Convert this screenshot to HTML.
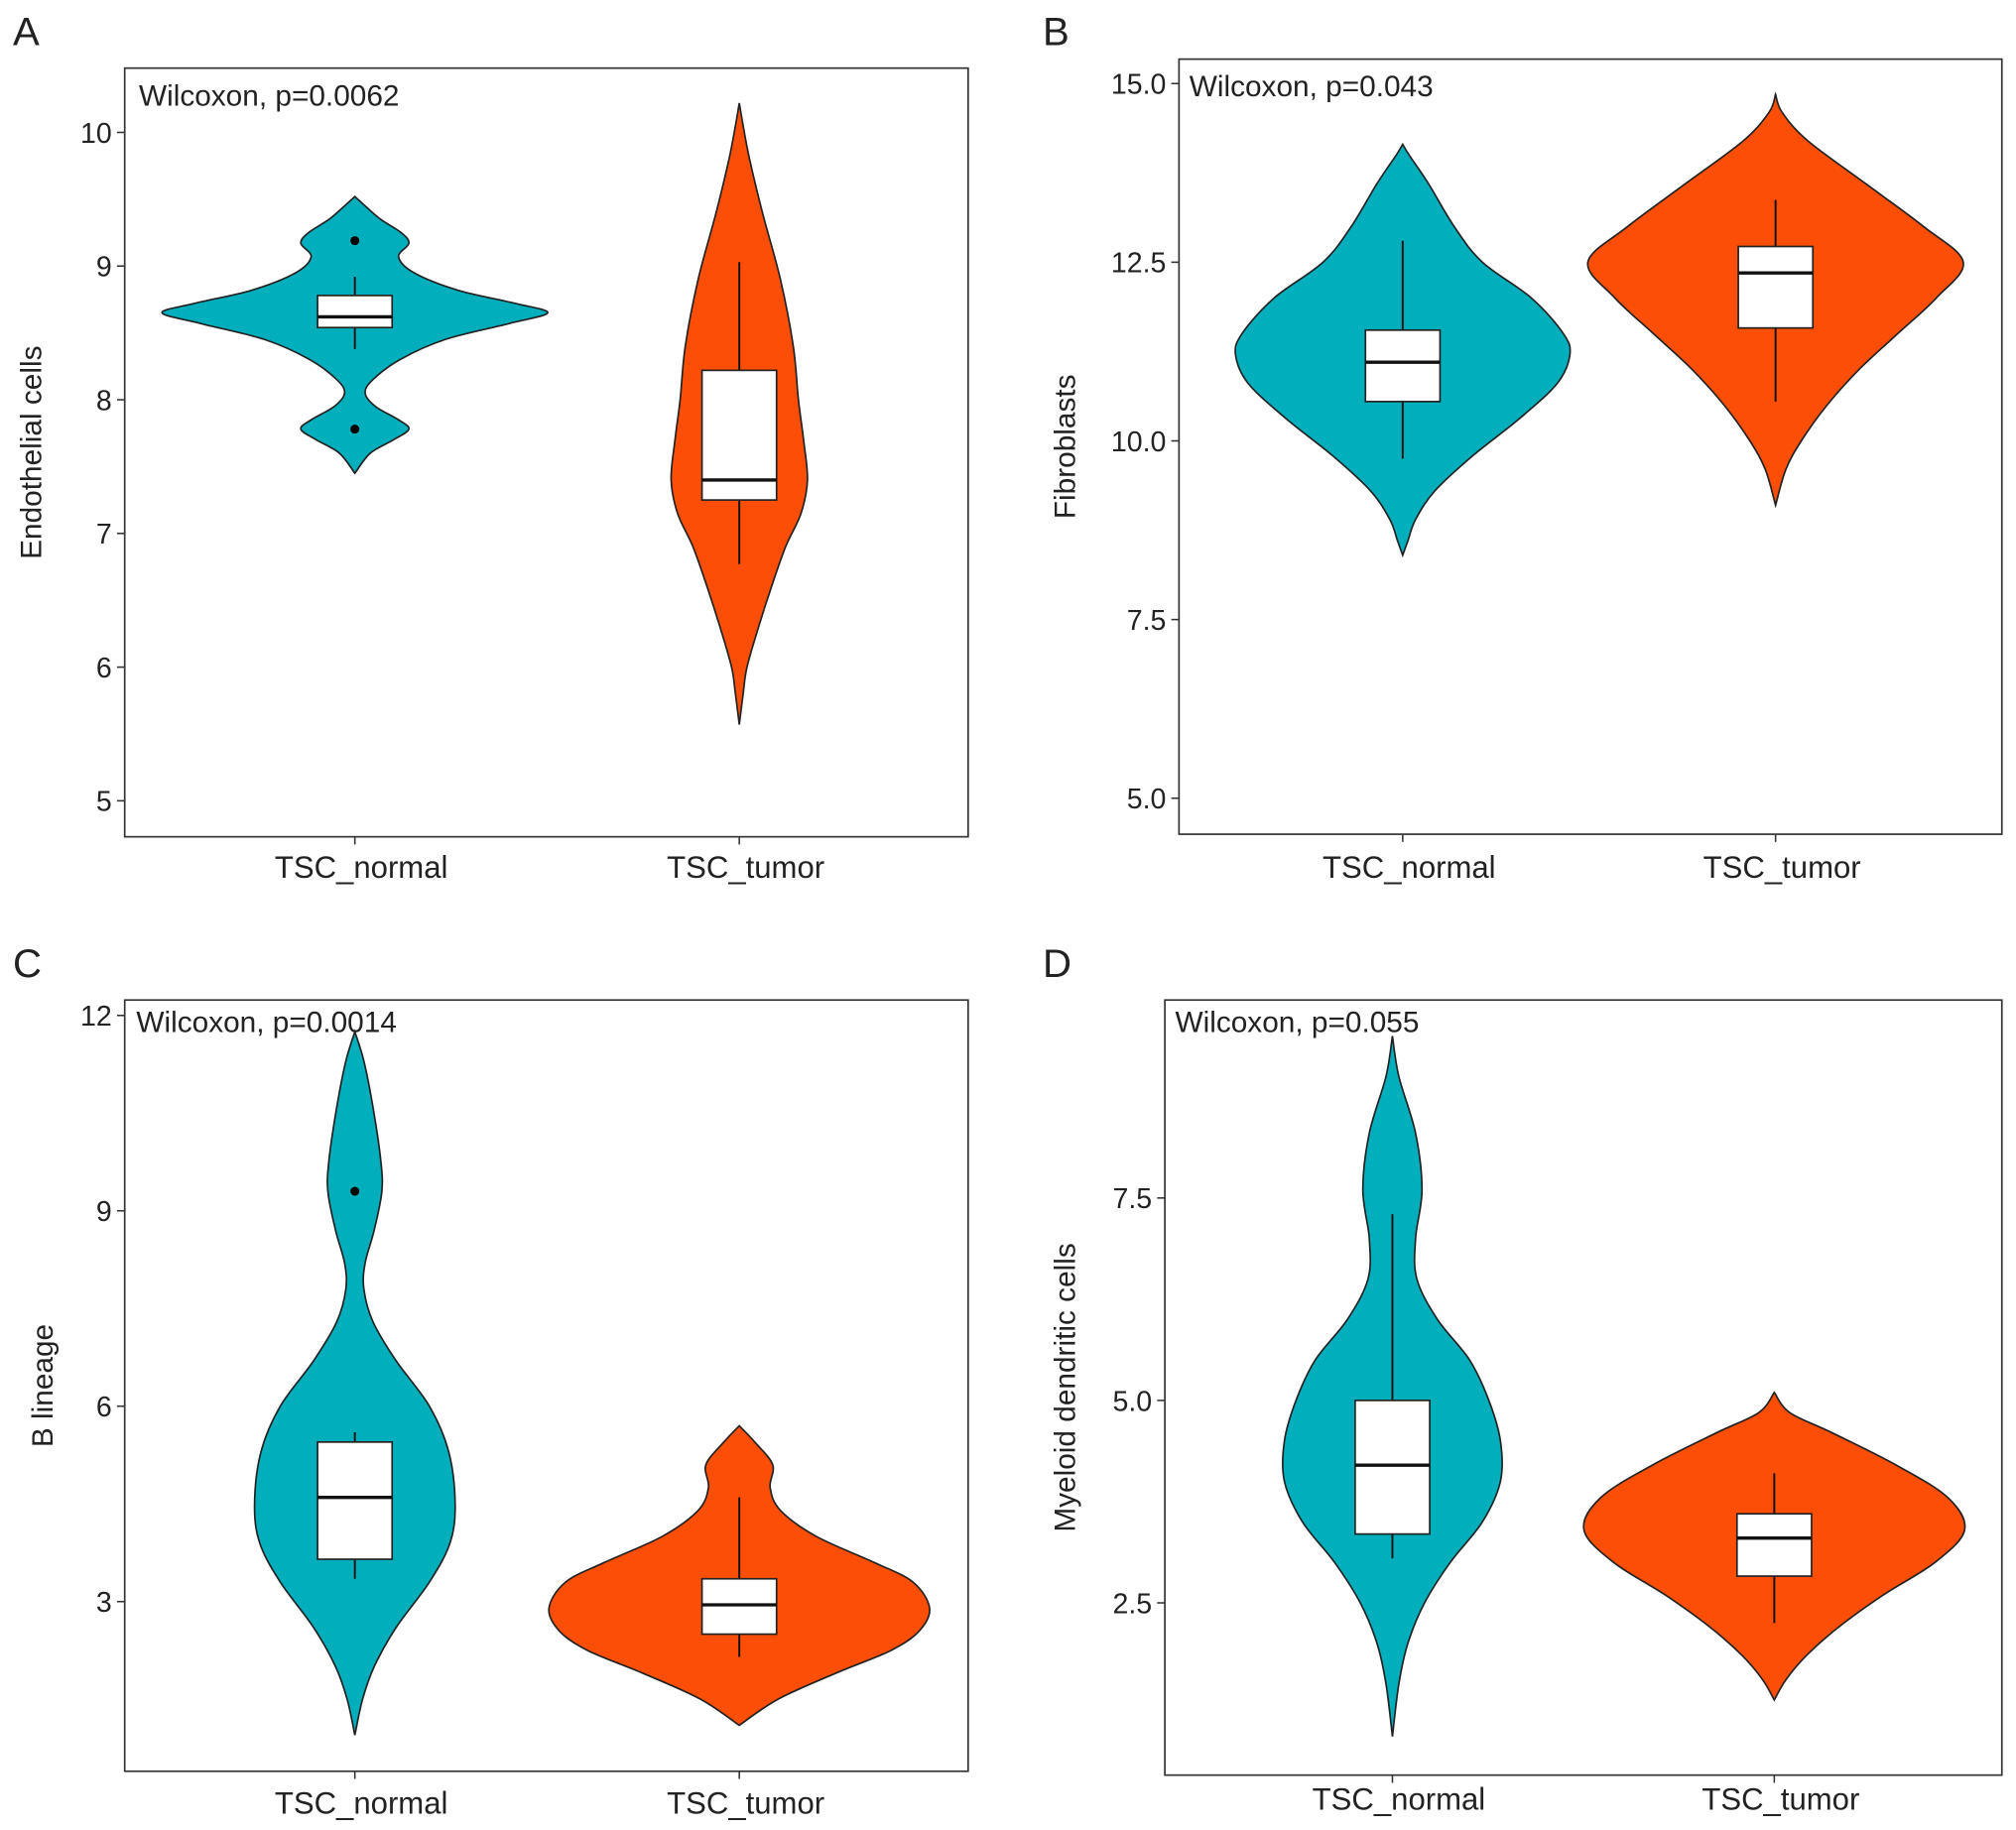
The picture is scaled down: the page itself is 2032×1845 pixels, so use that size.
<!DOCTYPE html>
<html><head><meta charset="utf-8"><style>
html,body{margin:0;padding:0;background:#fff}
svg{display:block}
text{font-family:"Liberation Sans",Arial,sans-serif;fill:#222}
</style></head><body>
<svg id="fig" xmlns="http://www.w3.org/2000/svg" width="2032" height="1845" viewBox="0 0 1568 1423.7" preserveAspectRatio="none"></svg>
<script>
// ---- data ----
const categories = ["TSC_normal","TSC_tumor"];
const panelLetters = ["A","B","C","D"];
const yTitles = ["Endothelial cells","Fibroblasts","B lineage","Myeloid dendritic cells"];
const pLabels = ["Wilcoxon, p=0.0062","Wilcoxon, p=0.043","Wilcoxon, p=0.0014","Wilcoxon, p=0.055"];
const tickValuesA = [5,6,7,8,9,10];
const tickLabelsA = ["5","6","7","8","9","10"];
const tickValuesB = [5,7.5,10,12.5,15];
const tickLabelsB = ["5.0","7.5","10.0","12.5","15.0"];
const tickValuesC = [3,6,9,12];
const tickLabelsC = ["3","6","9","12"];
const tickValuesD = [2.5,5,7.5];
const tickLabelsD = ["2.5","5.0","7.5"];
// violin profiles: [value, relative half-width]
const violinA_normal = [[9.52,0],[9.45,8],[9.35,20],[9.25,36],[9.17,42],[9.07,34],[8.95,46],[8.82,80],[8.72,125],[8.65,150],[8.57,120],[8.45,70],[8.3,35],[8.15,14],[8.05,8],[7.95,16],[7.85,34],[7.78,42],[7.7,30],[7.6,12],[7.45,0]];
const violinA_tumor = [[10.22,0],[10.05,3],[9.8,8],[9.4,18],[8.9,32],[8.4,42],[8.0,46],[7.7,50],[7.4,53],[7.15,48],[6.9,36],[6.6,25],[6.3,15],[6.0,6],[5.8,3],[5.57,0]];
const boxA_normal = [8.38,8.54,8.62,8.78,8.92];
const boxA_tumor = [6.77,7.25,7.4,8.22,9.03];
const outliersA_normal = [9.19,7.78];
const violinB_normal = [[14.15,0],[14.0,5],[13.6,20],[13.0,40],[12.5,62],[12.0,100],[11.5,125],[11.2,130],[10.8,120],[10.3,90],[9.8,55],[9.3,25],[8.9,10],[8.6,4],[8.4,0]];
const violinB_tumor = [[14.85,0],[14.6,5],[14.2,25],[13.6,70],[13.0,115],[12.5,146],[12.0,125],[11.5,95],[11.0,65],[10.5,40],[10.0,20],[9.6,8],[9.1,0]];
const boxB_normal = [9.75,10.55,11.1,11.55,12.8];
const boxB_tumor = [10.55,11.58,12.35,12.72,13.37];
const violinC_normal = [[11.75,0],[11.3,7],[10.6,14],[9.8,20],[9.3,21],[8.7,15],[8.2,8],[7.8,7],[7.3,14],[6.7,32],[6.0,58],[5.3,73],[4.5,78],[3.9,74],[3.3,58],[2.6,32],[2.0,15],[1.5,6],[0.95,0]];
const violinC_tumor = [[5.7,0],[5.45,12],[5.1,26],[4.75,24],[4.4,32],[4.0,60],[3.6,105],[3.3,135],[2.9,148],[2.55,140],[2.25,118],[1.9,75],[1.5,30],[1.1,0]];
const boxC_normal = [3.35,3.65,4.6,5.45,5.6];
const boxC_tumor = [2.15,2.5,2.95,3.35,4.6];
const outliersC_normal = [9.3];
const violinD_normal = [[9.5,0],[9.0,5],[8.3,18],[7.6,23],[7.0,18],[6.5,19],[6.0,35],[5.5,60],[5.0,75],[4.5,84],[4.0,84],[3.5,70],[3.0,45],[2.5,25],[2.0,12],[1.5,5],[0.85,0]];
const violinD_tumor = [[5.1,0],[4.85,12],[4.6,45],[4.2,95],[3.8,135],[3.4,148],[3.0,125],[2.6,85],[2.2,50],[1.85,25],[1.55,9],[1.3,0]];
const boxD_normal = [3.05,3.35,4.2,5.0,7.3];
const boxD_tumor = [2.25,2.83,3.3,3.6,4.1];

const colors = ["#00AFBB","#FC4E07"];
const NS = "http://www.w3.org/2000/svg";
const svg = document.getElementById("fig");
function el(tag, attrs, parent){const e=document.createElementNS(NS,tag);for(const k in attrs)e.setAttribute(k,attrs[k]);(parent||svg).appendChild(e);return e;}

const panels = [
 {id:"a",box:[97,53,753,651],y0:[10,103],y1:[5,623],cx:[276,575],tv:tickValuesA,tl:tickLabelsA,letter:[10,35],ytx:32,p:[108,82],
  v:[violinA_normal,violinA_tumor],b:[boxA_normal,boxA_tumor],o:[outliersA_normal,[]],xl:675},
 {id:"b",box:[917,46,1557,649],y0:[15,65],y1:[5,621],cx:[1091,1381],tv:tickValuesB,tl:tickLabelsB,letter:[811,35],ytx:836,p:[925,75],
  v:[violinB_normal,violinB_tumor],b:[boxB_normal,boxB_tumor],o:[[],[]],xl:675},
 {id:"c",box:[97,778,753,1378],y0:[12,790],y1:[3,1246],cx:[276,575],tv:tickValuesC,tl:tickLabelsC,letter:[10,760],ytx:41,p:[106,803],
  v:[violinC_normal,violinC_tumor],b:[boxC_normal,boxC_tumor],o:[outliersC_normal,[]],xl:1403},
 {id:"d",box:[906,778,1557,1381],y0:[7.5,932],y1:[2.5,1247],cx:[1083,1380],tv:tickValuesD,tl:tickLabelsD,letter:[811,760],ytx:836,p:[914,803],
  v:[violinD_normal,violinD_tumor],b:[boxD_normal,boxD_tumor],o:[[],[]],xl:1400}
];

function smoothPath(pts){ // catmull-rom
  let d="M"+pts[0][0]+","+pts[0][1];
  for(let i=0;i<pts.length-1;i++){
    const p0=pts[Math.max(0,i-1)],p1=pts[i],p2=pts[i+1],p3=pts[Math.min(pts.length-1,i+2)];
    const c1=[p1[0]+(p2[0]-p0[0])/6,p1[1]+(p2[1]-p0[1])/6];
    const c2=[p2[0]-(p3[0]-p1[0])/6,p2[1]-(p3[1]-p1[1])/6];
    d+=" C"+c1[0]+","+c1[1]+" "+c2[0]+","+c2[1]+" "+p2[0]+","+p2[1];
  }
  return d;
}

panels.forEach((P,pi)=>{
  const g=el("g",{});
  
  
  const ys=(v)=>P.y0[1]+(v-P.y0[0])*(P.y1[1]-P.y0[1])/(P.y1[0]-P.y0[0]);
  const [x0,y0,x1,y1]=P.box;
  const lt=el("text",{x:P.letter[0],y:P.letter[1],"font-size":31},g);lt.textContent=panelLetters[pi];
  
  
  P.tv.forEach((v,i)=>{
    const y=ys(v);
    const t=el("line",{x1:x0-6,x2:x0,y1:y,y2:y,stroke:"#333","stroke-width":1.2},g);
    
    
    const tx=el("text",{x:x0-10,y:y+8,"font-size":22,"text-anchor":"end"},g);tx.textContent=P.tl[i];
    
    
  });
  const yt=el("text",{x:0,y:0,"font-size":23,"text-anchor":"middle",transform:"translate("+P.ytx+","+((y0+y1)/2)+") rotate(-90)"},g);
  yt.textContent=yTitles[pi];
  
  
  categories.forEach((c,ci)=>{
    const cx=P.cx[ci];
    const t=el("line",{x1:cx,x2:cx,y1:y1,y2:y1+6,stroke:"#333","stroke-width":1.2},g);
    
    
    const tx=el("text",{x:cx+5,y:P.xl+8,"font-size":24,"text-anchor":"middle"},g);tx.textContent=c;
    
    
    const prof=P.v[ci];
    const right=prof.map(p=>[cx+p[1],ys(p[0])]);
    const left=prof.slice().reverse().map(p=>[cx-p[1],ys(p[0])]);
    const d=smoothPath(right)+" "+smoothPath(left).replace(/^M/,"L")+" Z";
    const vp=el("path",{d:d,fill:colors[ci],stroke:"#222","stroke-width":1.3},g);
    
    
    const b=P.b[ci],hw=29;
    const wh=el("line",{x1:cx,x2:cx,y1:ys(b[0]),y2:ys(b[4]),stroke:"#111","stroke-width":1.5},g);
    
    
    const r=el("rect",{x:cx-hw,width:2*hw,y:ys(b[3]),height:ys(b[1])-ys(b[3]),fill:"#fff",stroke:"#222","stroke-width":1.3},g);
    
    
    const m=el("line",{x1:cx-hw,x2:cx+hw,y1:ys(b[2]),y2:ys(b[2]),stroke:"#111","stroke-width":2.6},g);
    
    
    P.o[ci].forEach(v=>{
      const o=el("circle",{cx:cx,cy:ys(v),r:3.5,fill:"#000"},g);
      
      
    });
  });
  const fr=el("rect",{x:x0,y:y0,width:x1-x0,height:y1-y0,fill:"none",stroke:"#333","stroke-width":1.3},g);
  
  
  const pt=el("text",{x:P.p[0],y:P.p[1],"font-size":23},g);pt.textContent=pLabels[pi];
  
  
});
</script>
</body></html>
